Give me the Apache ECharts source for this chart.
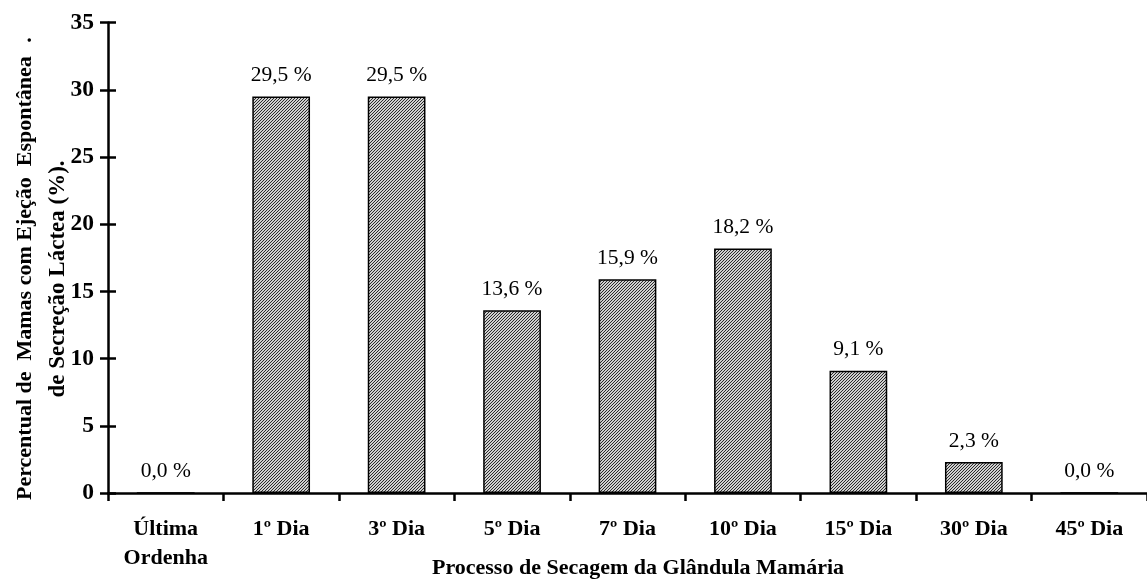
<!DOCTYPE html>
<html>
<head>
<meta charset="utf-8">
<script src="https://cdn.jsdelivr.net/npm/echarts@6/dist/echarts.min.js"></script>
<style>
  html, body { margin: 0; padding: 0; background: #ffffff; }
  #chart { width: 1147px; height: 581px; }
</style>
</head>
<body>
<div id="chart"></div>
<script>
// Stages of the drying-off process and share of teats with spontaneous milk ejection (%)
const categories = ['Última\nOrdenha', '1º Dia', '3º Dia', '5º Dia', '7º Dia', '10º Dia', '15º Dia', '30º Dia', '45º Dia'];
const percentages = [0.0, 29.5, 29.5, 13.6, 15.9, 18.2, 9.1, 2.3, 0.0];
const yTicks = { min: 0, max: 35, interval: 5 };

const FONT = '"Liberation Serif", "Times New Roman", serif';

// Fine diagonal hatching used to fill the bars
function hatchPattern() {
  const c = document.createElement('canvas');
  c.width = 3; c.height = 3;
  const g = c.getContext('2d');
  g.fillStyle = '#cfcfcf';
  g.fillRect(0, 0, 3, 3);
  g.fillStyle = '#2a2a2a';
  for (let x = 0; x < 3; x++) {
    g.fillRect(x, 2 - x, 1, 1);
  }
  return c;
}

const chart = echarts.init(document.getElementById('chart'), null, { renderer: 'canvas' });

const axisBase = {
  type: 'value',
  min: yTicks.min,
  max: yTicks.max,
  interval: yTicks.interval,
  splitLine: { show: false }
};

chart.setOption({
  animation: false,
  backgroundColor: '#ffffff',
  grid: { left: 108, top: 22.7, right: -7.25, bottom: 88, containLabel: false },
  xAxis: {
    type: 'category',
    data: categories,
    boundaryGap: true,
    axisLine: { show: true, onZero: false, lineStyle: { color: '#000', width: 2.5 } },
    axisTick: { show: true, inside: false, length: 8, alignWithLabel: false, lineStyle: { color: '#000', width: 2.5 } },
    axisLabel: {
      interval: 0, margin: 22, color: '#000',
      fontFamily: FONT, fontWeight: 'bold', fontSize: 22, lineHeight: 29
    },
    splitLine: { show: false }
  },
  yAxis: [
    Object.assign({}, axisBase, {
      position: 'left',
      axisLine: { show: true, lineStyle: { color: '#000', width: 2.5 } },
      axisTick: { show: true, inside: false, length: 8, lineStyle: { color: '#000', width: 2.5 } },
      axisLabel: { margin: 14, color: '#000', fontFamily: FONT, fontWeight: 'bold', fontSize: 23.5 }
    }),
    // companion axis that draws the inner half of each crossing tick
    Object.assign({}, axisBase, {
      position: 'left',
      axisLine: { show: false },
      axisTick: { show: true, inside: true, length: 8, lineStyle: { color: '#000', width: 2.5 } },
      axisLabel: { show: false }
    })
  ],
  series: [{
    type: 'bar',
    yAxisIndex: 0,
    data: percentages,
    barWidth: '50%',
    itemStyle: {
      color: { image: hatchPattern(), repeat: 'repeat' },
      borderColor: '#000',
      borderWidth: 1.5
    },
    label: {
      show: true,
      position: 'top',
      distance: 10,
      color: '#000',
      fontFamily: FONT,
      fontSize: 21.5,
      formatter: p => p.value.toFixed(1).replace('.', ',') + ' %'
    }
  }],
  graphic: [
    {
      type: 'text', x: 25, y: 500, rotation: Math.PI / 2,
      style: {
        text: 'Percentual de  Mamas com Ejeção  Espontânea',
        fontFamily: FONT, fontWeight: 'bold', fontSize: 22,
        fill: '#000', align: 'left', verticalAlign: 'middle'
      }
    },
    {
      type: 'text', x: 25, y: 40, rotation: Math.PI / 2,
      style: {
        text: '.',
        fontFamily: FONT, fontWeight: 'bold', fontSize: 22,
        fill: '#000', align: 'center', verticalAlign: 'middle'
      }
    },
    {
      type: 'text', x: 58, y: 279, rotation: Math.PI / 2,
      style: {
        text: 'de Secreção Láctea (%).',
        fontFamily: FONT, fontWeight: 'bold', fontSize: 23,
        fill: '#000', align: 'center', verticalAlign: 'middle'
      }
    },
    {
      type: 'text', x: 638, y: 568,
      style: {
        text: 'Processo de Secagem da Glândula Mamária',
        fontFamily: FONT, fontWeight: 'bold', fontSize: 22,
        fill: '#000', align: 'center', verticalAlign: 'middle'
      }
    }
  ]
});
</script>
</body>
</html>
